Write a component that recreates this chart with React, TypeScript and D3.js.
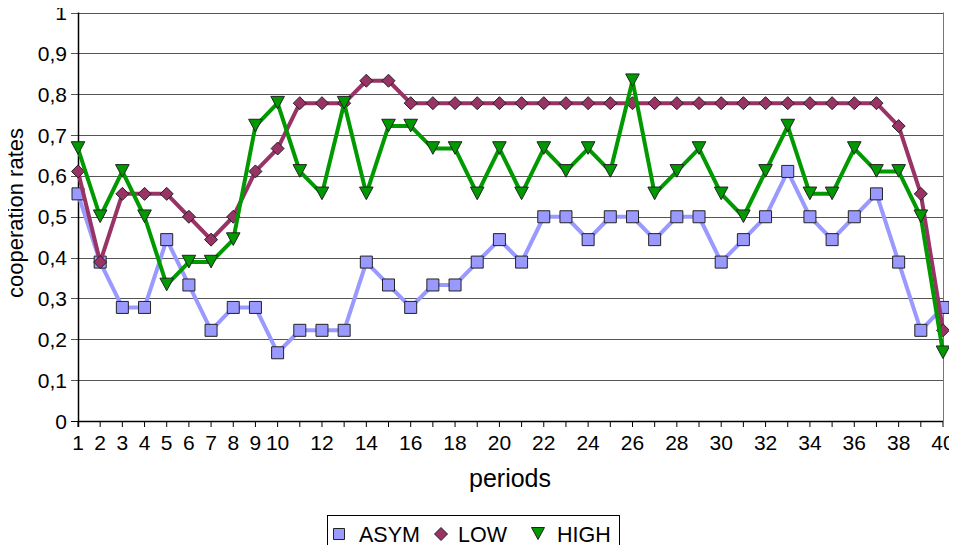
import React, { useEffect, useRef } from 'react';
import * as d3 from 'd3';

const periods: number[] = d3.range(1, 41);
const asym: number[] = [
  0.556, 0.389, 0.278, 0.278, 0.444, 0.333, 0.222, 0.278, 0.278, 0.167,
  0.222, 0.222, 0.222, 0.389, 0.333, 0.278, 0.333, 0.333, 0.389, 0.444,
  0.389, 0.5, 0.5, 0.444, 0.5, 0.5, 0.444, 0.5, 0.5, 0.389,
  0.444, 0.5, 0.611, 0.5, 0.444, 0.5, 0.556, 0.389, 0.222, 0.278,
];
const low: number[] = [
  0.611, 0.389, 0.556, 0.556, 0.556, 0.5, 0.444, 0.5, 0.611, 0.667,
  0.778, 0.778, 0.778, 0.833, 0.833, 0.778, 0.778, 0.778, 0.778, 0.778,
  0.778, 0.778, 0.778, 0.778, 0.778, 0.778, 0.778, 0.778, 0.778, 0.778,
  0.778, 0.778, 0.778, 0.778, 0.778, 0.778, 0.778, 0.722, 0.556, 0.222,
];
const high: number[] = [
  0.667, 0.5, 0.611, 0.5, 0.333, 0.389, 0.389, 0.444, 0.722, 0.778,
  0.611, 0.556, 0.778, 0.556, 0.722, 0.722, 0.667, 0.667, 0.556, 0.667,
  0.556, 0.667, 0.611, 0.667, 0.611, 0.833, 0.556, 0.611, 0.667, 0.556,
  0.5, 0.611, 0.722, 0.556, 0.556, 0.667, 0.611, 0.611, 0.5, 0.167,
];
const xTickLabels: number[] = [1, 2, 3, 4, 5, 6, 7, 8, 9, 10, 12, 14, 16, 18, 20, 22, 24, 26, 28, 30, 32, 34, 36, 38, 40];
const yTicks: number[] = [0, 0.1, 0.2, 0.3, 0.4, 0.5, 0.6, 0.7, 0.8, 0.9, 1];

type Series = { name: string; values: number[]; color: string; width: number; marker: 'square' | 'diamond' | 'triangle' };
const series: Series[] = [
  { name: 'ASYM', values: asym, color: '#9999ff', width: 4, marker: 'square' },
  { name: 'LOW', values: low, color: '#993366', width: 4, marker: 'diamond' },
  { name: 'HIGH', values: high, color: '#009900', width: 4, marker: 'triangle' },
];

const W = 957;
const H = 553;
const FONT = '"Liberation Sans", Arial, sans-serif';

function markerPath(kind: string, x: number, y: number, s: number): string {
  if (kind === 'square') return `M${x - s},${y - s}H${x + s}V${y + s}H${x - s}Z`;
  if (kind === 'diamond') return `M${x},${y - s}L${x + s},${y}L${x},${y + s}L${x - s},${y}Z`;
  return `M${x - s},${y - s}L${x + s},${y - s}L${x},${y + s - 1}Z`;
}
const markerSize: Record<string, number> = { square: 6, diamond: 6.5, triangle: 6.8 };

export default function App() {
  const svgRef = useRef<SVGSVGElement>(null);

  useEffect(() => {
    if (!svgRef.current) return;
    const svg = d3.select(svgRef.current);
    svg.selectAll('*').remove();

    const left = 78, right = 943, top = 12.5, bottom = 421;
    const x = d3.scaleLinear().domain([1, 40]).range([left, right]);
    const y = d3.scaleLinear().domain([0, 1]).range([bottom, top]);

    svg.append('rect').attr('width', W).attr('height', H).attr('fill', '#fff');

    // grid
    svg.append('g').selectAll('line').data(yTicks).enter().append('line')
      .attr('x1', left - 7).attr('x2', right)
      .attr('y1', d => Math.round(y(d)) + 0.5).attr('y2', d => Math.round(y(d)) + 0.5)
      .attr('stroke', d => (d === 0 ? '#000' : '#555')).attr('stroke-width', 1);
    svg.append('line').attr('x1', right + 0.5).attr('x2', right + 0.5).attr('y1', y(1)).attr('y2', bottom)
      .attr('stroke', '#777');

    // y axis
    svg.append('line').attr('x1', left + 0.5).attr('x2', left + 0.5).attr('y1', y(1)).attr('y2', bottom + 6)
      .attr('stroke', '#000').attr('stroke-width', 1.5);
    svg.append('g').selectAll('text').data(yTicks).enter().append('text')
      .attr('x', 67).attr('y', d => y(d)).attr('dy', '0.36em')
      .attr('text-anchor', 'end').style('font-family', FONT).style('font-size', '21px')
      .text(d => (d === 0 || d === 1 ? String(d) : d.toFixed(1).replace('.', ',')));

    // x axis
    svg.append('line').attr('x1', left).attr('x2', right).attr('y1', bottom + 0.5).attr('y2', bottom + 0.5)
      .attr('stroke', '#000').attr('stroke-width', 1.5);
    svg.append('g').selectAll('line').data(periods).enter().append('line')
      .attr('x1', d => x(d)).attr('x2', d => x(d)).attr('y1', bottom).attr('y2', bottom + 6)
      .attr('stroke', '#000');
    svg.append('g').selectAll('text').data(xTickLabels).enter().append('text')
      .attr('x', d => x(d)).attr('y', 450).attr('text-anchor', 'middle')
      .style('font-family', FONT).style('font-size', '21px').text(d => String(d));

    // axis titles
    svg.append('text').attr('transform', `translate(22.5,213) rotate(-90)`)
      .attr('text-anchor', 'middle').style('font-family', FONT).style('font-size', '22px')
      .text('cooperation rates');
    svg.append('text').attr('x', 510).attr('y', 487).attr('text-anchor', 'middle')
      .style('font-family', FONT).style('font-size', '25px').text('periods');

    // series
    const line = d3.line<number>().x((_, i) => x(periods[i])).y(d => y(d));
    series.forEach(s => {
      const g = svg.append('g');
      g.append('path').datum(s.values).attr('d', line).attr('fill', 'none')
        .attr('stroke', s.color).attr('stroke-width', s.width).attr('stroke-linejoin', 'round');
      g.selectAll('path.m').data(s.values).enter().append('path').attr('class', 'm')
        .attr('d', (v, i) => markerPath(s.marker, x(periods[i]), y(v), markerSize[s.marker]))
        .attr('fill', s.color).attr('stroke', '#222').attr('stroke-width', 1);
    });

    // legend
    const lg = svg.append('g');
    lg.append('rect').attr('x', 327.5).attr('y', 515.5).attr('width', 292).attr('height', 50)
      .attr('fill', '#fff').attr('stroke', '#000');
    const legendPos = [
      { mx: 339, tx: 359 },
      { mx: 441, tx: 458 },
      { mx: 538, tx: 557 },
    ];
    series.forEach((s, i) => {
      const p = legendPos[i];
      lg.append('path').attr('d', markerPath(s.marker, p.mx, 534, s.marker === 'square' ? 5.5 : 6.5))
        .attr('fill', s.color).attr('stroke', '#222');
      lg.append('text').attr('x', p.tx).attr('y', 541.5).style('font-family', FONT).style('font-size', '21.5px')
        .text(s.name);
    });
  }, []);

  return <svg ref={svgRef} width={W} height={H} style={{ display: 'block', margin: -8 }} />;
}
